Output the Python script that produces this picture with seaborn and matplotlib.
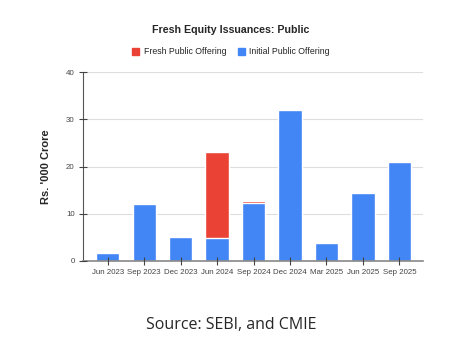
import matplotlib
matplotlib.use("Agg")
import matplotlib.pyplot as plt
from matplotlib.patches import Patch
import seaborn as sns
import pandas as pd

quarters = ["Jun 2023", "Sep 2023", "Dec 2023", "Jun 2024", "Sep 2024",
            "Dec 2024", "Mar 2025", "Jun 2025", "Sep 2025"]
ipo = [1.6, 12.1, 5.1, 4.9, 12.2, 32.1, 3.7, 14.3, 20.9]
fpo = [0.0, 0.0, 0.0, 18.2, 0.5, 0.0, 0.0, 0.1, 0.3]
yticks = [0, 10, 20, 30, 40]

RED = "#EA4335"
BLUE = "#4285F4"

df = pd.DataFrame({"quarter": quarters, "ipo": ipo, "fpo": fpo})
df["total"] = df["ipo"] + df["fpo"]

sns.set_style("white")
plt.rcParams["font.family"] = ["Liberation Sans", "DejaVu Sans"]

fig = plt.figure(figsize=(4.51, 3.51), dpi=100)
ax = fig.add_axes([0.184, 0.257, 0.754, 0.537])

for yv in yticks[1:]:
    ax.axhline(yv, color="#dddddd", linewidth=0.8, zorder=0)

sns.barplot(data=df, x="quarter", y="total", color=RED, saturation=1,
            width=0.64, ax=ax, zorder=1)
sns.barplot(data=df, x="quarter", y="ipo", color=BLUE, saturation=1,
            width=0.64, ax=ax, zorder=1.5)

ax.set_axisbelow(False)
ax.set_ylim(0, 40)
ax.set_xlim(-0.68, 8.65)
ax.set_yticks(yticks)
ax.grid(False)
for s in ["top", "right"]:
    ax.spines[s].set_visible(False)
ax.spines["left"].set_color("#555555")
ax.spines["left"].set_linewidth(0.8)
ax.spines["bottom"].set_color("#888888")
ax.spines["bottom"].set_linewidth(1.2)
ax.tick_params(axis="both", bottom=True, left=True, direction="inout",
               length=6, width=0.8, color="#444444", labelsize=5.7,
               labelcolor="#444444", pad=3)
ax.set_xlabel("")
ax.set_ylabel("Rs. '000 Crore", fontsize=8, fontweight="bold", labelpad=11)

fig.text(0.512, 0.915, "Fresh Equity Issuances: Public", ha="center",
         va="center", fontsize=7.7, fontweight="bold")
handles = [Patch(color=RED, label="Fresh Public Offering"),
           Patch(color=BLUE, label="Initial Public Offering")]
fig.legend(handles=handles, loc="center", bbox_to_anchor=(0.512, 0.852),
           ncol=2, frameon=False, fontsize=6.3, handlelength=0.8,
           handleheight=0.8, handletextpad=0.5, columnspacing=1.3)

fig.text(0.512, 0.073, "Source: SEBI, and CMIE", ha="center", va="center",
         fontsize=11.5, family=["Open Sans", "DejaVu Sans"])

fig.savefig("out.png", dpi=100, facecolor="white")
